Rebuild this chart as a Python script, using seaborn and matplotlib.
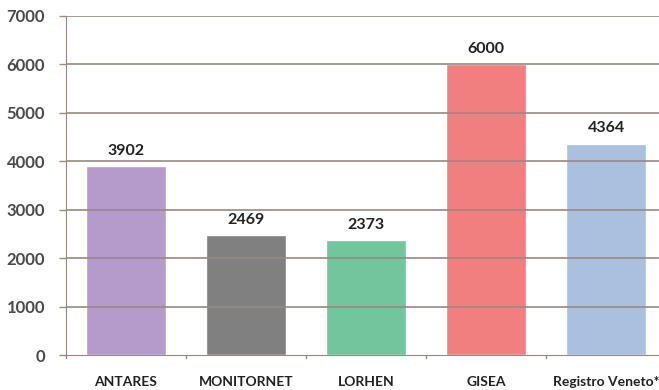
import matplotlib
matplotlib.use("Agg")
import matplotlib.pyplot as plt
import numpy as np
import pandas as pd
import seaborn as sns

# chart data
categories = ["ANTARES", "MONITORNET", "LORHEN", "GISEA", "Registro Veneto*"]
values = [3902, 2469, 2373, 6000, 4364]
bar_colors = ["#b59bcb", "#808080", "#72c59c", "#f17f7f", "#a9c1de"]
y_ticks = [0, 1000, 2000, 3000, 4000, 5000, 6000, 7000]

df = pd.DataFrame({"name": categories, "value": values})

sns.set_style("white")
plt.rcParams["font.family"] = ["Lato", "DejaVu Sans"]

fig = plt.figure(figsize=(6.59, 3.90), dpi=100)
ax = fig.add_axes([66 / 659, 35 / 390, 600 / 659, 339 / 390])

sns.barplot(data=df, x="name", y="value", hue="name", palette=bar_colors,
            width=0.67, saturation=1, legend=False, ax=ax, zorder=1)

# gridlines sit on top of the bars in the original
for y in y_ticks[1:]:
    ax.axhline(y, color="#9b8882", lw=1.2, zorder=3)

ax.set_ylim(0, 7000)
ax.set_xlim(-0.5, 4.5)
ax.set_yticks(y_ticks)
ax.set_yticklabels([str(t) for t in y_ticks], fontsize=12, fontweight="bold", color="#4a4a4a")
ax.set_xticks(range(len(categories)))
ax.set_xticklabels(categories, fontsize=10, fontweight="bold", color="#222222")
ax.tick_params(axis="x", length=0, pad=15)
ax.tick_params(axis="y", length=5, width=1, color="#9b8882", pad=10, direction="out", left=True)
# boundary ticks on x axis
for b in np.arange(-0.5, 4.6, 1.0):
    ax.plot([b, b], [0, -70], color="#9b8882", lw=1, clip_on=False, zorder=4)

ax.set_xlabel("")
ax.set_ylabel("")
for s in ["top", "right"]:
    ax.spines[s].set_visible(False)
ax.spines["left"].set_color("#9b8882")
ax.spines["bottom"].set_color("#9b8882")
ax.spines["left"].set_zorder(4)

for i, v in enumerate(values):
    ax.text(i, v + 170, str(v), ha="center", va="bottom", fontsize=11.5,
            fontweight="bold", color="#222222", zorder=5)

fig.savefig("out.png", dpi=100)
